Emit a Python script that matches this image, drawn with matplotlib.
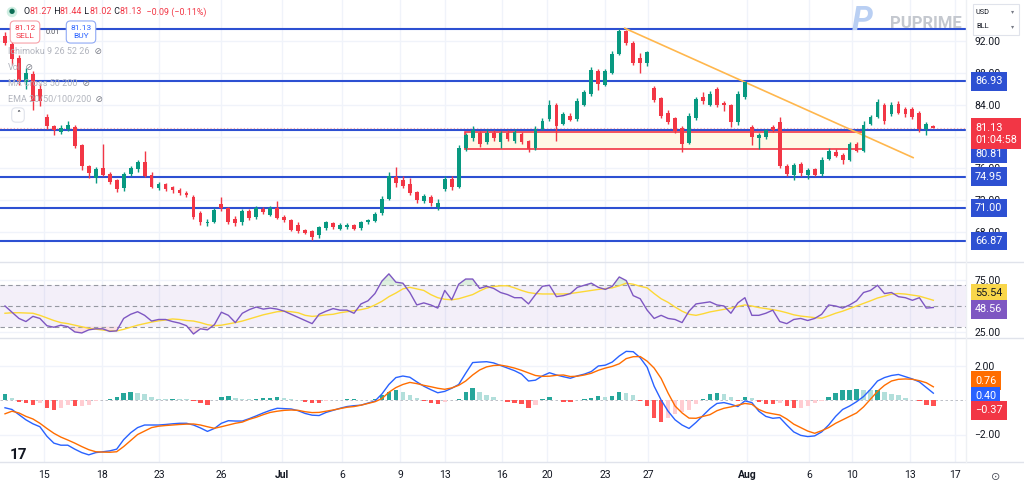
import numpy as np
import matplotlib.pyplot as plt
from matplotlib.patches import Rectangle
from matplotlib.lines import Line2D
from matplotlib.transforms import blended_transform_factory

plt.rcParams['font.family'] = ['Roboto', 'DejaVu Sans']

# ---- price candles (4h-ish bars) ----
opens = [92.6, 91.6, 89.9, 86.8, 87.8, 86.0, 82.5, 81.3, 80.6, 80.9,
         81.2, 78.9, 76.3, 74.8, 76.0, 75.3, 74.5, 73.5, 75.3, 75.9,
         76.8, 75.2, 73.5, 74.0, 73.6, 73.3, 72.9, 72.4, 70.4, 69.1,
         69.3, 71.5, 71.0, 69.7, 69.2, 70.6, 69.9, 70.9, 70.2, 71.0,
         69.9, 69.5, 68.9, 68.2, 68.1, 67.6, 68.5, 69.1, 68.4, 68.6,
         68.9, 68.5, 69.2, 69.4, 70.4, 72.2, 74.9, 74.6, 74.0, 73.0,
         71.9, 72.4, 71.2, 73.4, 74.7, 73.7, 78.5, 79.8, 80.5, 79.3,
         80.5, 79.3, 80.5, 79.4, 80.3, 79.4, 78.6, 81.0, 82.2, 84.0,
         81.6, 82.6, 82.2, 84.0, 85.3, 88.2, 86.5, 88.0, 90.4, 93.2,
         91.8, 89.9, 89.2, 86.1, 84.8, 83.0, 82.3, 81.1, 79.2, 82.3,
         85.0, 84.0, 86.0, 84.2, 83.9, 81.8, 85.0, 81.2, 79.8, 80.0,
         81.2, 81.8, 76.3, 75.2, 76.6, 75.2, 75.9, 75.3, 77.2, 78.1,
         77.7, 77.1, 79.0, 78.2, 81.6, 82.5, 84.0, 82.8, 84.1, 83.5,
         83.4, 83.0, 80.9, 81.27]
highs = [93.1, 91.9, 90.3, 88.6, 88.2, 86.6, 82.8, 81.5, 81.4, 81.9,
         81.4, 79.1, 76.4, 76.2, 79.1, 75.5, 74.7, 75.6, 76.3, 77.1,
         78.2, 75.5, 74.3, 74.2, 73.8, 73.5, 73.1, 72.6, 70.6, 69.6,
         71.0, 72.4, 71.2, 70.0, 70.9, 70.9, 71.3, 71.1, 71.3, 71.9,
         70.1, 69.7, 69.2, 68.4, 68.3, 68.8, 69.4, 69.3, 69.1, 69.1,
         69.0, 69.4, 69.7, 70.5, 72.5, 75.6, 76.2, 75.0, 74.8, 73.2,
         72.8, 72.6, 72.1, 75.0, 75.0, 78.9, 80.5, 81.3, 80.7, 80.9,
         80.8, 80.7, 80.8, 80.9, 80.6, 79.6, 81.3, 82.3, 84.6, 84.2,
         83.1, 82.9, 84.8, 85.9, 88.7, 88.5, 88.5, 90.7, 93.5, 93.4,
         92.0, 90.5, 90.8, 86.3, 85.0, 83.3, 82.5, 81.3, 82.9, 85.0,
         85.6, 85.7, 86.2, 84.5, 84.1, 85.7, 86.9, 81.4, 80.5, 81.0,
         81.5, 82.4, 76.5, 76.7, 76.8, 76.0, 76.1, 77.4, 78.5, 78.4,
         77.9, 79.3, 79.3, 81.9, 82.7, 84.7, 84.2, 84.3, 84.4, 83.7,
         83.7, 83.2, 81.8, 81.44]
lows = [91.5, 89.0, 86.5, 86.0, 83.3, 83.8, 80.9, 80.2, 80.3, 80.7,
        78.6, 75.8, 74.8, 74.2, 75.0, 74.0, 73.0, 73.2, 75.1, 75.6,
        74.9, 73.5, 73.3, 73.1, 72.9, 72.6, 72.4, 69.6, 68.9, 68.8,
        69.1, 70.7, 69.0, 68.7, 68.9, 69.5, 69.7, 70.3, 70.0, 69.6,
        69.3, 68.1, 67.9, 67.7, 67.0, 67.3, 68.3, 68.4, 68.2, 68.4,
        68.2, 68.3, 69.0, 69.2, 70.2, 72.0, 73.7, 73.5, 72.6, 71.7,
        71.7, 71.3, 70.8, 73.2, 73.3, 73.5, 78.2, 79.4, 78.7, 79.1,
        79.5, 78.6, 79.4, 79.2, 79.0, 78.1, 78.3, 80.8, 82.0, 79.5,
        81.4, 81.9, 82.0, 83.8, 85.1, 85.9, 86.3, 87.8, 90.2, 91.5,
        89.0, 88.0, 88.9, 84.3, 82.3, 81.6, 80.5, 78.0, 79.0, 82.1,
        84.1, 83.8, 83.7, 83.2, 81.2, 81.5, 84.7, 78.9, 78.4, 79.7,
        80.6, 76.0, 75.0, 74.5, 75.1, 74.7, 75.0, 75.1, 77.0, 77.4,
        76.5, 76.9, 78.0, 78.0, 81.4, 82.3, 81.6, 82.6, 82.8, 82.5,
        82.2, 80.6, 80.2, 81.02]
closes = [91.8, 89.8, 87.0, 88.0, 84.5, 84.5, 81.3, 80.8, 81.1, 81.5,
          78.8, 76.3, 75.4, 75.9, 75.2, 74.3, 73.4, 75.3, 76.0, 76.8,
          75.1, 73.7, 74.0, 73.4, 73.3, 72.9, 72.6, 69.9, 69.2, 69.3,
          70.8, 71.0, 69.2, 69.1, 70.6, 69.8, 71.0, 70.5, 71.0, 69.8,
          69.5, 68.3, 68.1, 67.9, 67.4, 68.6, 69.2, 68.6, 68.9, 68.9,
          68.4, 69.2, 69.5, 70.3, 72.2, 75.0, 74.2, 73.8, 72.9, 72.0,
          72.5, 71.6, 71.7, 74.7, 73.6, 78.6, 80.2, 80.8, 79.0, 80.5,
          79.8, 80.4, 79.7, 80.6, 79.3, 78.4, 81.0, 82.0, 84.0, 81.3,
          82.8, 82.1, 84.5, 85.6, 88.3, 86.6, 88.2, 90.4, 93.2, 91.8,
          89.2, 89.2, 90.6, 84.6, 82.6, 81.8, 80.7, 79.0, 82.6, 84.7,
          84.4, 85.4, 84.0, 83.9, 81.8, 85.4, 86.8, 80.0, 80.2, 80.8,
          80.8, 76.3, 75.3, 76.4, 75.4, 75.8, 75.2, 77.1, 78.2, 77.6,
          77.0, 79.0, 78.2, 81.4, 82.4, 84.3, 82.0, 84.0, 83.0, 82.8,
          82.5, 81.0, 81.6, 81.13]

# ---- RSI(14) and its MA ----
rsi = [50, 44, 38, 35, 40, 38, 31, 29.5, 31.5, 30,
       25, 24, 27, 28, 28, 25.5, 26, 38, 42, 44.5,
       41, 35.5, 37, 37, 35, 33.5, 31, 23, 28, 27,
       32, 44, 41, 34, 43, 46.5, 49, 47, 48, 47,
       45, 42, 39, 36, 33, 42, 45, 47.5, 46, 46,
       43, 52, 55, 62, 74, 81, 73, 72, 63, 51,
       53, 51, 48, 65, 56, 71, 76, 76, 67, 69,
       67, 63, 61, 58, 58, 52, 61, 69, 70, 59,
       60, 62, 68, 70, 72, 68, 66, 69, 78, 74.5,
       60, 57, 46, 38, 41, 38, 37, 34, 45, 52,
       53, 54, 51, 50, 43, 53, 58, 41, 41, 43,
       46, 35, 33, 37, 38, 36, 38, 42, 51, 50,
       48, 51, 55, 63, 65, 70, 62, 63, 59, 58,
       55.5, 58, 48, 48.56]
rsi_ma = [43, 43.5, 43.5, 43.2, 43, 41, 38.5, 36, 34, 33,
          31.5, 30, 28.5, 27.7, 27, 26, 26, 27.5, 29.5, 31.5,
          33, 34.5, 35.7, 36.5, 37.5, 37, 36, 35.5, 34, 32,
          31, 31.5, 32.7, 34, 35.5, 37.5, 39.5, 41.5, 43, 44.5,
          45, 44.5, 43.5, 41, 40, 40.5, 41.5, 42, 43.5, 44.5,
          45.5, 46.5, 48, 51, 54.5, 59, 62.5, 66.5, 68, 66.5,
          65, 61, 58, 56.5, 56, 57, 59, 61, 64.5, 67.5,
          68.8, 69.5, 69.5, 67.5, 65, 63, 62, 61.6, 61.6, 61.5,
          61.6, 62, 63, 64, 65, 66, 66.8, 67.5, 69.5, 72,
          71, 69, 67.5, 62, 57, 53.5, 49, 45, 42, 41,
          42.5, 44.3, 45.5, 46.8, 48, 49.5, 51, 50, 48.5, 47.5,
          46.5, 45.2, 43.5, 41.5, 40.3, 39.5, 38.8, 38.2, 40.5, 43,
          45, 47.5, 50, 52.5, 55, 57.7, 59.5, 61.5, 62, 61.5,
          60.5, 59.5, 57.5, 55.54]

# ---- MACD(12, 26, 9) ----
macd = [-0.45, -0.55, -0.85, -1.15, -1.38, -1.55, -2.1, -2.5, -2.62, -2.62,
        -2.85, -3.05, -3.18, -3.05, -3.0, -2.95, -2.85, -2.3, -1.9, -1.6,
        -1.45, -1.45, -1.45, -1.42, -1.38, -1.35, -1.35, -1.45, -1.62, -1.82,
        -1.65, -1.35, -1.2, -1.22, -1.22, -1.08, -0.92, -0.75, -0.6, -0.48,
        -0.5, -0.52, -0.62, -0.78, -0.88, -0.9, -0.72, -0.6, -0.48, -0.38,
        -0.33, -0.3, -0.18, -0.06, 0.35, 0.9, 1.3, 1.39, 1.32, 1.05,
        0.8, 0.6, 0.42, 0.5, 0.68, 0.9, 1.55, 2.17, 2.2, 2.22,
        2.15, 2.0, 1.85, 1.7, 1.5, 1.1, 1.15, 1.4, 1.58, 1.45,
        1.35, 1.26, 1.4, 1.5, 1.65, 1.97, 2.02, 2.2, 2.55, 2.82,
        2.8, 2.45, 1.9, 0.8, 0.0, -0.65, -1.15, -1.45, -1.65, -1.3,
        -0.9, -0.5, -0.2, -0.15, -0.25, -0.38, -0.05, -0.15, -0.65, -0.95,
        -1.06, -1.02, -1.45, -1.85, -2.05, -2.12, -2.08, -1.85, -1.45, -0.95,
        -0.55, -0.35, -0.1, 0.2, 0.62, 1.1, 1.3, 1.42, 1.48, 1.35,
        1.22, 1.05, 0.72, 0.396]
signal = [-0.8, -0.65, -0.75, -0.95, -1.1, -1.35, -1.65, -1.93, -2.15, -2.32,
          -2.5, -2.7, -2.88, -3.0, -3.02, -3.03, -3.0, -2.7, -2.35, -2.0,
          -1.8, -1.6, -1.52, -1.48, -1.45, -1.42, -1.4, -1.39, -1.45, -1.55,
          -1.64, -1.55, -1.45, -1.35, -1.28, -1.12, -1.0, -0.85, -0.72, -0.65,
          -0.6, -0.58, -0.6, -0.68, -0.73, -0.72, -0.65, -0.58, -0.5, -0.42,
          -0.38, -0.3, -0.2, -0.1, 0.08, 0.45, 0.72, 0.9, 1.02, 0.95,
          0.85, 0.77, 0.68, 0.62, 0.7, 0.85, 1.1, 1.45, 1.74, 1.92,
          2.0, 2.02, 1.95, 1.85, 1.72, 1.57, 1.42, 1.37, 1.38, 1.43,
          1.45, 1.36, 1.38, 1.45, 1.55, 1.72, 1.85, 1.95, 2.1, 2.4,
          2.51, 2.52, 2.25, 1.85, 1.25, 0.4, -0.35, -0.75, -1.05, -1.06,
          -0.95, -0.85, -0.62, -0.48, -0.4, -0.3, -0.2, -0.25, -0.55, -0.72,
          -0.8, -0.87, -1.1, -1.4, -1.6, -1.8, -1.93, -1.78, -1.6, -1.35,
          -1.15, -0.95, -0.75, -0.4, 0.05, 0.5, 0.85, 1.1, 1.2, 1.22,
          1.2, 1.12, 1.0, 0.764]

# drawn objects
levels = [93.5, 86.93, 80.81, 74.95, 71.00, 66.87]
zone_low, zone_high = 78.43, 80.53
zone_start, zone_end = 65.9, 122.9
trend_x = [88.8, 130.1]
trend_y = [93.6, 77.35]

price_ticks = [68, 72, 76, 84, 88, 92]
tick_labels = ['15', '18', '23', '26', 'Jul', '6', '9', '13', '16', '20',
               '23', '27', 'Aug', '6', '10', '13', '17']
tick_px = [44, 102, 159, 221, 282, 342, 400, 445, 502, 547,
           605, 648, 747, 809, 852, 910, 955]

UP, DN = '#089981', '#f23645'
LVL = '#2d50d2'
GRID = '#f0f3fa'
TXT = '#131722'

W, H = 1024, 491
PR = 966          # right edge of plotting area (px)
STEP, X0 = 6.98, 5  # px per bar / first bar px


def fx(x):
    return x / W


def fy(y):
    return 1 - y / H


fig = plt.figure(figsize=(W / 100, H / 100), dpi=100)
fig.patch.set_facecolor('white')
ax = fig.add_axes([0, fy(262), PR / W, 262 / H])
ax_rsi = fig.add_axes([0, fy(338), PR / W, 76 / H], sharex=ax)
ax_macd = fig.add_axes([0, fy(462), PR / W, 124 / H], sharex=ax)

o = np.array(opens)
h = np.array(highs)
l = np.array(lows)
c = np.array(closes)
idx = np.arange(len(c))
cols = np.where(c >= o, UP, DN)

ax.vlines(idx, l, h, colors=cols, lw=1, zorder=4)
ax.bar(idx, np.maximum(np.abs(c - o), 0.06), bottom=np.minimum(o, c),
       width=0.55, color=cols, linewidth=0, zorder=5)

ax.add_patch(Rectangle((zone_start, zone_low), zone_end - zone_start,
                       zone_high - zone_low, facecolor='#fff8e6',
                       edgecolor=DN, lw=1.2, zorder=2))
for lv in levels:
    ax.axhline(lv, color=LVL, lw=1.5, zorder=3)
ax.plot(trend_x, trend_y, color='#ffb74d', lw=1.2, zorder=3)
ax.axhline(c[-1], color='#f7a1a8', lw=0.8, ls=(0, (1, 2)), zorder=3)

xlim = (-X0 / STEP, (PR - X0) / STEP)
ax.set_xlim(xlim)
ax.set_ylim(92 - (262 - 41) / 7.96, 92 + 41 / 7.96)

# RSI pane
rsi_a = np.array(rsi)
ax_rsi.axhspan(30, 70, color='#7e57c2', alpha=0.09, lw=0)
for lv in (70, 50, 30):
    ax_rsi.axhline(lv, color='#9598a1', lw=0.8, ls=(0, (4, 3)))
ax_rsi.fill_between(idx, 70, rsi_a, where=rsi_a > 70, interpolate=True,
                    color='#4caf50', alpha=0.18, lw=0)
ax_rsi.fill_between(idx, 30, rsi_a, where=rsi_a < 30, interpolate=True,
                    color='#f23645', alpha=0.15, lw=0)
ax_rsi.plot(idx, rsi_ma, color='#fdd835', lw=1)
ax_rsi.plot(idx, rsi_a, color='#7e57c2', lw=1)
ax_rsi.set_ylim(50 - 32 / 1.037, 50 + 44 / 1.037)

# MACD pane
m = np.array(macd)
s = np.array(signal)
hist = m - s
prev = np.r_[hist[0], hist[:-1]]
hcols = np.where(hist >= 0, np.where(hist >= prev, '#26a69a', '#b2dfdb'),
                 np.where(hist < prev, '#ff5252', '#ffcdd2'))
ax_macd.bar(idx, hist, width=0.62, color=hcols, linewidth=0, zorder=2)
ax_macd.axhline(0, color='#b2b5be', lw=0.6, ls=(0, (3, 3)), zorder=1)
ax_macd.plot(idx, m, color='#2962ff', lw=1, zorder=3)
ax_macd.plot(idx, s, color='#ff6d00', lw=1, zorder=3)
ax_macd.set_ylim(-62 / 17.25, 62 / 17.25)

# axes styling
tick_idx = [(p - X0) / STEP for p in tick_px]
for a in (ax, ax_rsi, ax_macd):
    for sp in a.spines.values():
        sp.set_visible(False)
    a.yaxis.tick_right()
    a.tick_params(axis='both', length=0, labelsize=7.5, labelcolor=TXT, pad=6)
    a.set_xticks(tick_idx)
    a.grid(True, color=GRID, lw=1, zorder=0)
    a.set_axisbelow(True)
ax.tick_params(labelbottom=False)
ax_rsi.tick_params(labelbottom=False)

ax.set_yticks(price_ticks)
ax.set_yticklabels([f'{v:.2f}' for v in price_ticks])
ax.axhline(80, color=GRID, lw=1, zorder=0)
ax_rsi.set_yticks([25, 75])
ax_rsi.set_yticklabels(['25.00', '75.00'])
ax_macd.set_yticks([-2, 2])
ax_macd.set_yticklabels(['\u22122.00', '2.00'])
ax_macd.set_xticklabels(tick_labels)
for t in ax_macd.get_xticklabels():
    if t.get_text() in ('Jul', 'Aug'):
        t.set_fontweight('bold')


def tag(a, value, text, face, fg='white', dy=0, fs=7.8):
    tr = blended_transform_factory(a.transAxes, a.transData)
    a.annotate(text, xy=(1, value), xycoords=tr, xytext=(9, dy),
               textcoords='offset pixels', ha='left', va='center',
               fontsize=fs, color=fg, linespacing=1.25, zorder=10,
               annotation_clip=False,
               bbox=dict(boxstyle='square,pad=0.4', fc=face, ec='none'))


hist_txt = f'{hist[-1]:.2f}'.replace('-', '\u2212')
tag(ax, 86.93, '86.93', LVL)
tag(ax, 80.81, '80.81', LVL, dy=-24)
tag(ax, 74.95, '74.95', LVL)
tag(ax, 71.00, '71.00', LVL)
tag(ax, 66.87, '66.87', LVL)
tag(ax, c[-1], f'{c[-1]:.2f}\n01:04:58', DN, dy=-6)
tag(ax_rsi, rsi_ma[-1], f'{rsi_ma[-1]:.2f}', '#f9d64a', fg=TXT, dy=7)
tag(ax_rsi, rsi[-1], f'{rsi[-1]:.2f}', '#7e57c2', dy=-2)
tag(ax_macd, signal[-1], f'{signal[-1]:.2f}', '#ff6d00', dy=6)
tag(ax_macd, macd[-1], f'{macd[-1]:.2f}', '#2962ff', dy=-3)
tag(ax_macd, hist[-1], hist_txt, DN, dy=-4)

# pane separators
for yy in (262, 338, 462):
    fig.add_artist(Line2D([0, 1], [fy(yy), fy(yy)], color='#e0e3eb', lw=1,
                          transform=fig.transFigure))
fig.add_artist(Line2D([fx(PR), fx(PR)], [fy(462), 1], color='#eef0f4', lw=1,
                      transform=fig.transFigure))


def chain(x, y, parts, fs=6.4):
    t = ax.annotate(parts[0][0], xy=(x, H - y), xycoords='figure pixels',
                    va='center', ha='left', fontsize=fs, color=parts[0][1],
                    annotation_clip=False, zorder=12)
    for txt, col in parts[1:]:
        t = ax.annotate(txt, xy=(1, 0.5), xycoords=t, va='center', ha='left',
                        fontsize=fs, color=col, annotation_clip=False, zorder=12)
    return t


# legend rows
fig.text(fx(12), fy(12), '\u25cf', color='#0b6e55', fontsize=5, ha='center',
         va='center', bbox=dict(boxstyle='circle,pad=0.25', fc='#cfeee2', ec='none'))
chain(23, 12, [('O', TXT), (f'{o[-1]:.2f}', DN), (' H', TXT), (f'{h[-1]:.2f}', DN),
               (' L', TXT), (f'{l[-1]:.2f}', DN), (' C', TXT), (f'{c[-1]:.2f}', DN),
               ('  \u22120.09 (\u22120.11%)', DN)])

fig.text(fx(25), fy(32), '81.12\nSELL', color=DN, fontsize=6, ha='center',
         va='center', linespacing=1.35,
         bbox=dict(boxstyle='round,pad=0.5', fc='white', ec='#f7a1a8', lw=0.8))
fig.text(fx(53), fy(32), '0.01', color='#50535e', fontsize=5.3, ha='center', va='center')
fig.text(fx(81), fy(32), '81.13\nBUY', color='#2962ff', fontsize=6, ha='center',
         va='center', linespacing=1.35,
         bbox=dict(boxstyle='round,pad=0.5', fc='white', ec='#8fa9f5', lw=0.8))

for yy, name in [(52, 'Ichimoku 9 26 52 26'), (68, 'Vol'),
                 (84, 'MA Cross 50 200'), (100, 'EMA 20/50/100/200')]:
    chain(8, yy, [(name, '#b2b5be'), ('  \u2298', '#787b86')], fs=6.5)
fig.text(fx(18), fy(115), '\u02c4', color=TXT, fontsize=6, ha='center', va='center',
         bbox=dict(boxstyle='round,pad=0.5', fc='white', ec='#e0e3eb', lw=0.8))

chain(8, 271, [('RSI', TXT), (' 14 close', '#787b86'), ('   \u21bb', '#7e57c2'),
               ('   ' + f'{rsi[-1]:.2f}', '#7e57c2'), ('  ' + f'{rsi_ma[-1]:.2f}', '#f2c94c')])
chain(8, 347, [('MACD', TXT), (' close 12 26 9', '#787b86'), ('   \u21bb', '#7e57c2'),
               ('   ' + hist_txt, '#ff5252'),
               ('  ' + f'{macd[-1]:.2f}', '#2962ff'),
               ('  ' + f'{signal[-1]:.2f}', '#ff6d00')])

# watermark and top-right selector
fig.text(fx(862), fy(21), 'P', color='#b9cff3', fontsize=24, fontweight='bold',
         style='italic', ha='center', va='center')
fig.text(fx(926), fy(23), 'PUPRIME', color='#c4c8cf', fontsize=12,
         fontweight='bold', ha='center', va='center')
fig.add_artist(Rectangle((fx(973), fy(35)), 46 / W, 31 / H, transform=fig.transFigure,
                         fc='white', ec='#e0e3eb', lw=0.8))
fig.text(fx(976), fy(12), 'USD', color=TXT, fontsize=5.3, va='center')
fig.text(fx(976), fy(27), 'BLL', color=TXT, fontsize=5.3, va='center')
fig.text(fx(1013), fy(12), '\u25be', color='#787b86', fontsize=4.5, va='center', ha='center')
fig.text(fx(1013), fy(27), '\u25be', color='#787b86', fontsize=4.5, va='center', ha='center')

fig.text(fx(18), fy(455), '17', color=TXT, fontsize=11, fontweight='bold',
         ha='center', va='center')
fig.text(fx(996), fy(477), '\u2299', color='#50535e', fontsize=8, ha='center', va='center')

fig.savefig('out.png', dpi=100, facecolor='white')
